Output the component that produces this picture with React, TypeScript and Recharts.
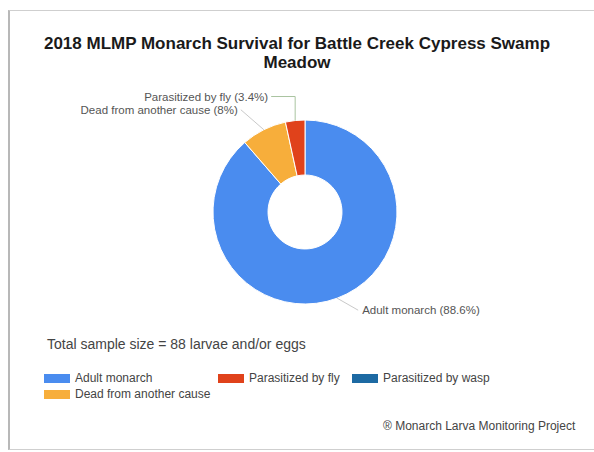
import { Cell, Pie, PieChart } from "recharts";

const title = ["2018 MLMP Monarch Survival for Battle Creek Cypress Swamp", "Meadow"];

// pie slices, clockwise from the top
const slices = ["Adult monarch", "Dead from another cause", "Parasitized by fly"];
const counts = [78, 7, 3];

const legendItems = ["Adult monarch", "Parasitized by fly", "Parasitized by wasp", "Dead from another cause"];

const sampleNote = "Total sample size = 88 larvae and/or eggs";
const credit = "® Monarch Larva Monitoring Project";

const colors: Record<string, string> = {
  "Adult monarch": "#4a8cef",
  "Parasitized by fly": "#e0421b",
  "Parasitized by wasp": "#1d6aa3",
  "Dead from another cause": "#f7ae3b",
};

// leader line shape per slice: bend point offset, then horizontal run
const leader: Record<string, { bx: number; by: number; run: number; line: string }> = {
  "Adult monarch": { bx: 21, by: 12, run: 0, line: "#c9c9c9" },
  "Dead from another cause": { bx: -23, by: -20, run: 0, line: "#c9c9c9" },
  "Parasitized by fly": { bx: 0, by: -24, run: -24, line: "#a9c4a0" },
};

const RADIAN = Math.PI / 180;
const font = "'Liberation Sans', Arial, sans-serif";

const pieData = slices.map((name, i) => ({ name, value: counts[i] }));
const total = counts.reduce((a, b) => a + b, 0);

const fmtPct = (v: number) => `${parseFloat(((v / total) * 100).toFixed(1))}%`;

const renderLabel = (props: any) => {
  const { cx, cy, midAngle, outerRadius, name, value } = props;
  const cfg = leader[name];
  const ax = cx + outerRadius * Math.cos(-midAngle * RADIAN);
  const ay = cy + outerRadius * Math.sin(-midAngle * RADIAN);
  const bx = ax + cfg.bx;
  const by = ay + cfg.by;
  const ex = bx + cfg.run;
  const goesLeft = cfg.bx + cfg.run < 0;
  return (
    <g>
      <polyline points={`${ax},${ay} ${bx},${by} ${ex},${by}`} fill="none" stroke={cfg.line} strokeWidth={1} />
      <text
        x={ex + (goesLeft ? -3 : 4)}
        y={by}
        textAnchor={goesLeft ? "end" : "start"}
        dominantBaseline="central"
        fontSize={11.5}
        fontFamily={font}
        fill="#555"
      >
        {`${name} (${fmtPct(value)})`}
      </text>
    </g>
  );
};

export default function App() {
  return (
    <div style={{ position: "absolute", left: 0, top: 0, width: 594, height: 452, overflow: "hidden", background: "#fff", fontFamily: font }}>
      <div
        style={{
          position: "absolute",
          left: 8,
          top: 10,
          width: 600,
          height: 440,
          border: "1px solid #cfcfcf",
          borderLeft: "2px solid #b8b8b8",
          boxSizing: "border-box",
        }}
      />
      <div style={{ position: "absolute", left: 0, width: 594, top: 34, textAlign: "center", fontWeight: "bold", fontSize: 17, lineHeight: "19px", color: "#1a1a1a" }}>
        {title.map((t) => (
          <div key={t}>{t}</div>
        ))}
      </div>
      <div style={{ position: "absolute", left: 0, top: 0 }}>
        <PieChart width={594} height={452} margin={{ top: 0, right: 0, bottom: 0, left: 0 }}>
          <Pie
            data={pieData}
            dataKey="value"
            nameKey="name"
            cx={305}
            cy={212}
            outerRadius={92}
            innerRadius={37}
            startAngle={90}
            endAngle={-270}
            stroke="#fff"
            strokeWidth={1}
            label={renderLabel}
            labelLine={false}
            isAnimationActive={false}
          >
            {pieData.map((d) => (
              <Cell key={d.name} fill={colors[d.name]} />
            ))}
          </Pie>
        </PieChart>
      </div>
      <div style={{ position: "absolute", left: 47, top: 336, fontSize: 14, color: "#444", whiteSpace: "nowrap" }}>{sampleNote}</div>
      {legendItems.map((name, i) => {
        const left = i === 3 ? 44 : [44, 218, 352][i];
        const top = i === 3 ? 387 : 371;
        return (
          <div key={name} style={{ position: "absolute", left, top, display: "flex", alignItems: "center", fontSize: 12, color: "#444", whiteSpace: "nowrap" }}>
            <span style={{ display: "inline-block", width: 26, height: 9, background: colors[name], marginRight: 5 }} />
            {name}
          </div>
        );
      })}
      <div style={{ position: "absolute", left: 383, top: 419, fontSize: 12, color: "#444", whiteSpace: "nowrap" }}>{credit}</div>
    </div>
  );
}
